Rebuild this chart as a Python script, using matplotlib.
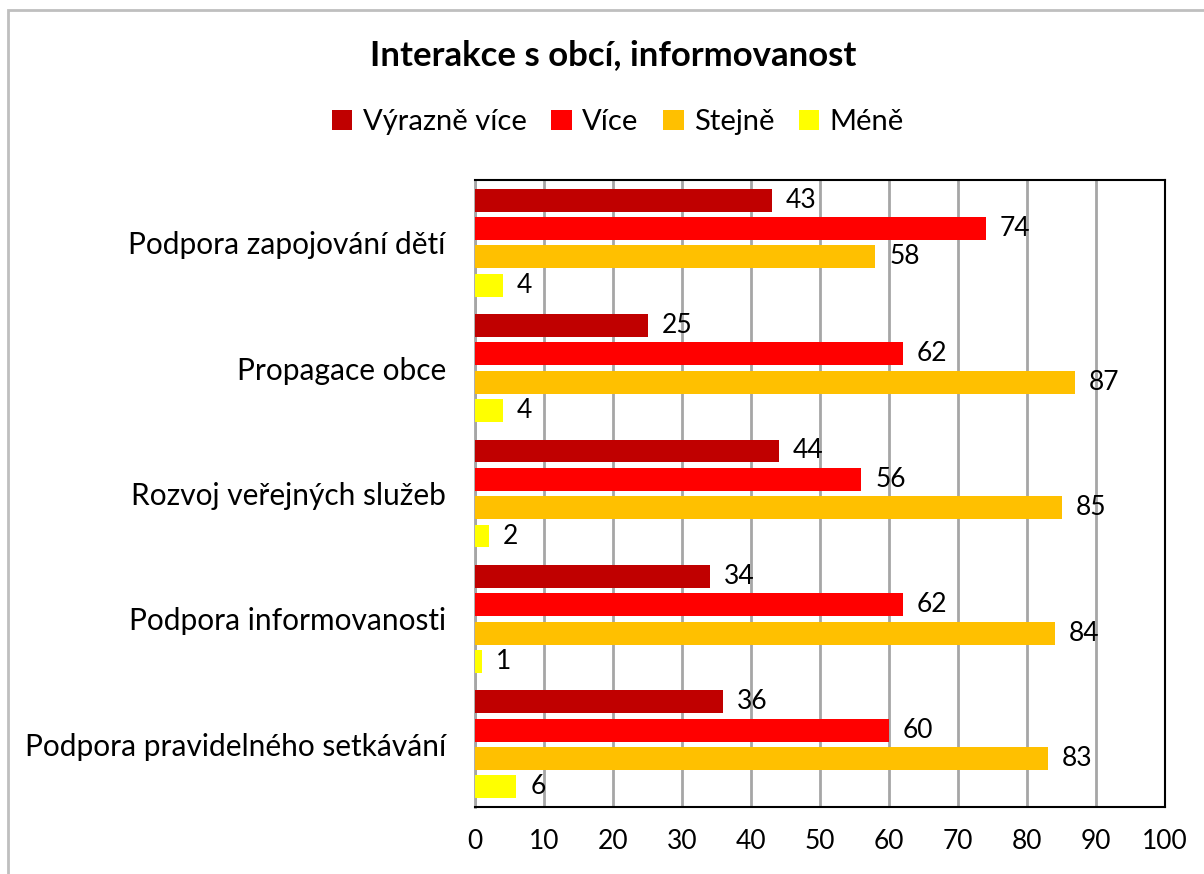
import matplotlib
matplotlib.use("Agg")
import matplotlib.pyplot as plt
from matplotlib.patches import Rectangle

plt.rcParams['font.family'] = ['Lato', 'DejaVu Sans']

categories = ["Podpora zapojování dětí", "Propagace obce", "Rozvoj veřejných služeb",
              "Podpora informovanosti", "Podpora pravidelného setkávání"]
series_names = ["Výrazně více", "Více", "Stejně", "Méně"]
values = {
    "Výrazně více": [43, 25, 44, 34, 36],
    "Více": [74, 62, 56, 62, 60],
    "Stejně": [58, 87, 85, 84, 83],
    "Méně": [4, 4, 2, 1, 6],
}
colors = ["#C00000", "#FF0000", "#FFC000", "#FFFF00"]
xticks = [0, 10, 20, 30, 40, 50, 60, 70, 80, 90, 100]

fig = plt.figure(figsize=(12.04, 8.74), dpi=100)
W, H = 1204, 874
ax = fig.add_axes([475 / W, 1 - 807 / H, (1165 - 475) / W, (807 - 180) / H])

step = 0.226
bh = 0.183
for j, name in enumerate(series_names):
    ys = [-i - (j - 1.5) * step for i in range(len(categories))]
    ax.barh(ys, values[name], height=bh, color=colors[j], label=name, zorder=3)
    for y, v in zip(ys, values[name]):
        ax.annotate(str(v), (v, y), xytext=(10, 0), textcoords='offset points',
                    va='center', ha='left', fontsize=19, color='black')

ax.set_xlim(0, 100)
ax.set_ylim(-4.5, 0.5)
ax.set_xticks(xticks)
ax.set_xticklabels([str(t) for t in xticks], fontsize=19)
ax.set_yticks([-i for i in range(len(categories))])
ax.set_yticklabels(categories, fontsize=21.5)
ax.tick_params(axis='both', length=0)
ax.tick_params(axis='x', pad=16)
ax.tick_params(axis='y', pad=21)
ax.grid(axis='x', color='#a6a6a6', linewidth=2, zorder=0)
for s in ['top', 'right', 'bottom']:
    ax.spines[s].set_linewidth(1.5)
    ax.spines[s].set_color('black')
ax.spines['left'].set_color('#a6a6a6')
ax.spines['left'].set_linewidth(2)

fig.text(613 / W, 1 - 55 / H, "Interakce s obcí, informovanost", ha='center', va='center',
         fontsize=25, fontweight='bold')
handles, labels = ax.get_legend_handles_labels()
fig.legend(handles, labels, loc='center', bbox_to_anchor=(618 / W, 1 - 122 / H), ncol=4,
           frameon=False, fontsize=21, handlelength=0.7, handleheight=0.7,
           handletextpad=0.35, columnspacing=0.85)

fig.patches.append(Rectangle((8 / W, -0.1), 1.2, 1 - 10 / H + 0.1, transform=fig.transFigure,
                             fill=False, edgecolor='#bfbfbf', linewidth=2))

fig.savefig("out.png", dpi=100)
